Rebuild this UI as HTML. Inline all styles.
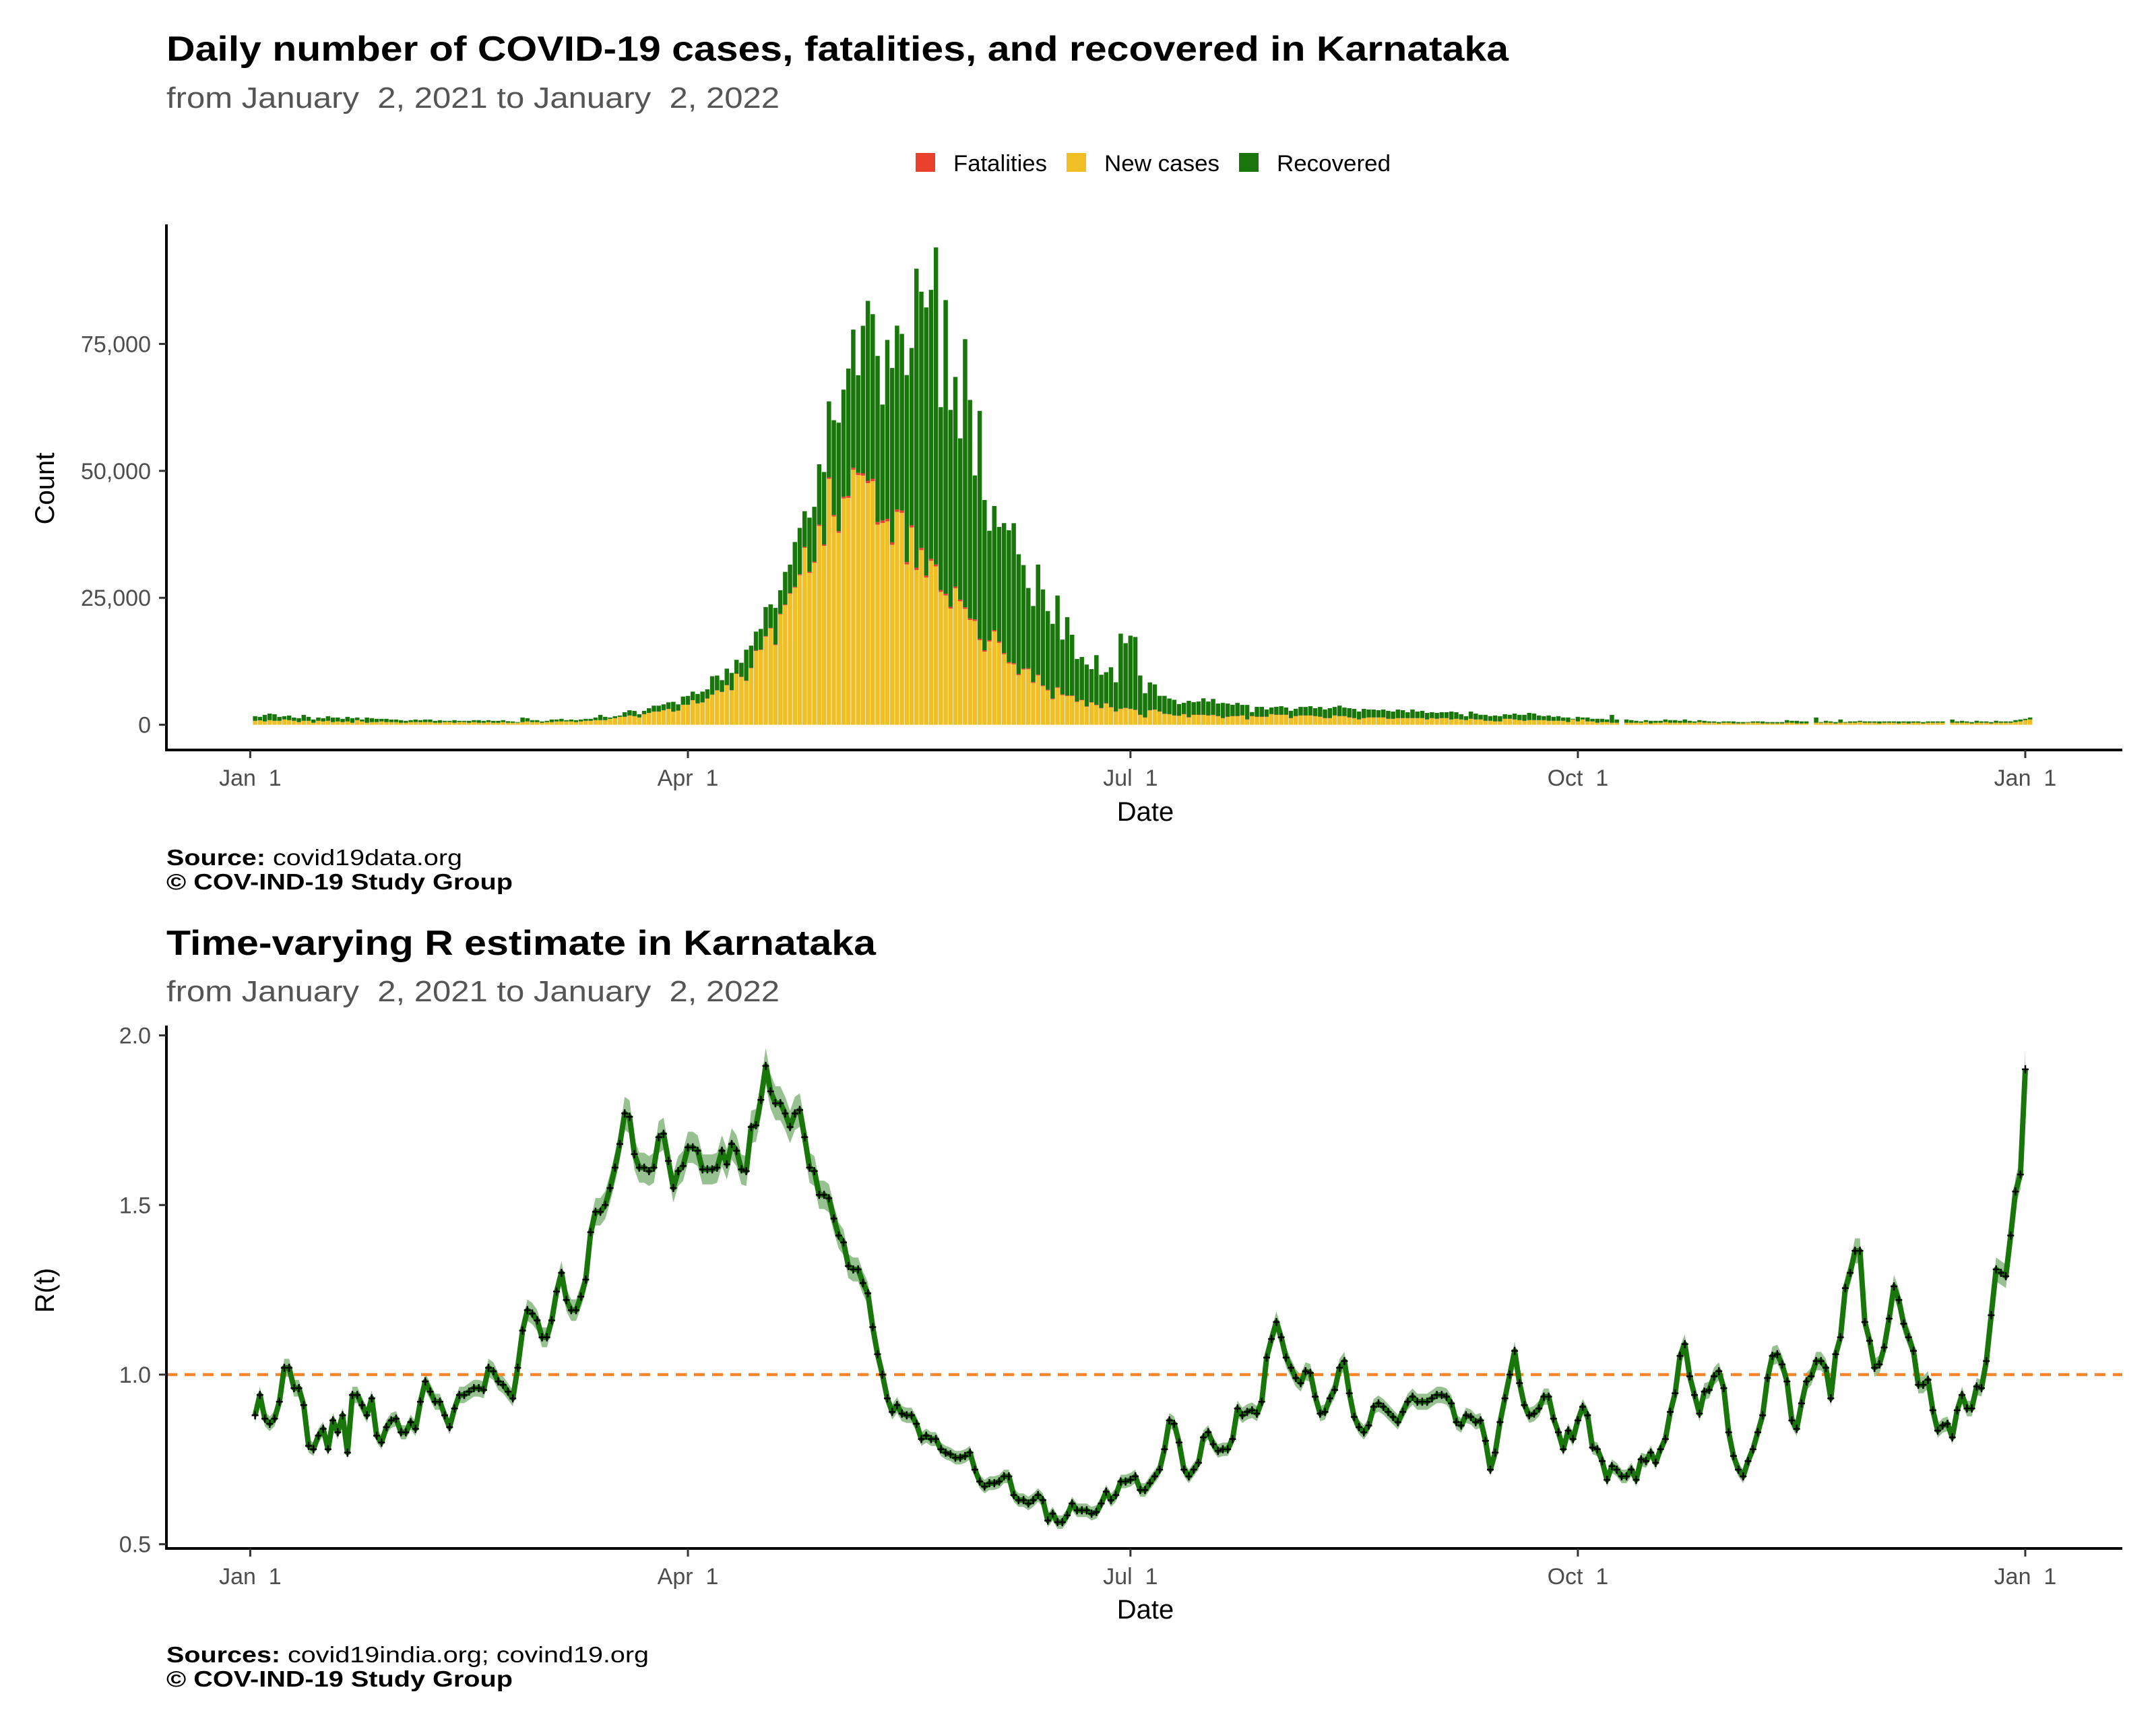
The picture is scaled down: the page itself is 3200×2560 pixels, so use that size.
<!DOCTYPE html>
<html><head><meta charset="utf-8">
<style>
html,body{margin:0;padding:0;background:#fff;}
svg{display:block;font-family:"Liberation Sans",Arial,sans-serif;}
</style></head>
<body>
<svg id="chart" width="3200" height="2560" viewBox="0 0 3200 2560" xmlns="http://www.w3.org/2000/svg">
  <rect x="0" y="0" width="3200" height="2560" fill="#fff"/>
  <text x="247" y="90" font-size="52" font-weight="bold" fill="#000" textLength="1992" lengthAdjust="spacingAndGlyphs">Daily number of COVID-19 cases, fatalities, and recovered in Karnataka</text>
  <text x="247" y="160" font-size="44" fill="#555" style="white-space:pre" xml:space="preserve" textLength="910" lengthAdjust="spacingAndGlyphs">from January  2, 2021 to January  2, 2022</text>
  <g>
    <g>
      <rect x="1359" y="227" width="29" height="28" fill="#e8412c"/>
      <text x="1415" y="254" font-size="34" fill="#000" textLength="139" lengthAdjust="spacingAndGlyphs">Fatalities</text>
    </g>
    <g>
      <rect x="1583" y="227" width="29" height="28" fill="#f0bf26"/>
      <text x="1639" y="254" font-size="34" fill="#000" textLength="171" lengthAdjust="spacingAndGlyphs">New cases</text>
    </g>
    <g>
      <rect x="1839" y="227" width="29" height="28" fill="#18760a"/>
      <text x="1895" y="254" font-size="34" fill="#000" textLength="169" lengthAdjust="spacingAndGlyphs">Recovered</text>
    </g>
  </g>
  <g id="bars"></g>
  <g id="topAxes"></g>
  <text x="0" y="0" font-size="40" fill="#000" text-anchor="middle" transform="translate(80,725) rotate(-90)">Count</text>
  <text x="1700" y="1218" font-size="40" fill="#000" text-anchor="middle">Date</text>
  <text x="247" y="1284" font-size="33" fill="#000" textLength="439" lengthAdjust="spacingAndGlyphs"><tspan font-weight="bold">Source:</tspan> covid19data.org</text>
  <text x="247" y="1320" font-size="33" font-weight="bold" fill="#000" textLength="514" lengthAdjust="spacingAndGlyphs">© COV-IND-19 Study Group</text>

  <text x="247" y="1417" font-size="52" font-weight="bold" fill="#000" textLength="1053" lengthAdjust="spacingAndGlyphs">Time-varying R estimate in Karnataka</text>
  <text x="247" y="1486" font-size="44" fill="#555" style="white-space:pre" xml:space="preserve" textLength="910" lengthAdjust="spacingAndGlyphs">from January  2, 2021 to January  2, 2022</text>
  <g id="rplot"></g>
  <g id="botAxes"></g>
  <text x="0" y="0" font-size="40" fill="#000" text-anchor="middle" transform="translate(80,1915) rotate(-90)">R(t)</text>
  <text x="1700" y="2402" font-size="40" fill="#000" text-anchor="middle">Date</text>
  <text x="247" y="2467" font-size="33" fill="#000" textLength="716" lengthAdjust="spacingAndGlyphs"><tspan font-weight="bold">Sources:</tspan> covid19india.org; covind19.org</text>
  <text x="247" y="2503" font-size="33" font-weight="bold" fill="#000" textLength="514" lengthAdjust="spacingAndGlyphs">© COV-IND-19 Study Group</text>
</svg>
<script>
const casesA = [770,860,650,900,770,770,1030,900,770,520,770,770,390,770,650,770,520,650,520,650,390,900,650,390,520,520,650,520,520,520,390,390,520,520,520,520,520,390,390,520,520,390,520,
520,390,520,390,390,520,390,390,520,390,390,390,520,650,520,520,390,520,520,650,650,650,650,520,650,770,770,900,900,900,1160,1290,1550,1550,1810,1680,1420,2060,2320,2580,2580,2840,3100];
const recoveredA = [910,690,1290,1290,1290,780,650,910,650,770,1170,780,640,650,640,910,900,770,640,900,900,520,380,1030,770,640,510,640,510,510,510,380,380,510,380,510,510,380,510,250,250,510,250,
250,380,380,510,380,380,380,380,380,300,260,130,900,640,380,380,260,250,510,380,510,250,380,380,380,390,390,520,1040,650,260,390,260,900,1030,1030,640,650,910,1160,1160,1160,1290];
const casesB = [2570,2770,3920,3920,4820,4180,4370,5140,5900,6750,6430,7780,6750,10030,9390,8620,11120,14530,14720,17360,
18970,15690,21730,23530,25780,27000,29450,34850,29900,31890,39160,35240,48420,41020,37810,44560,44690,50220,49190,49060,
47580,47970,39420,39740,40060,35430,41920,41730,31570,38840,30480,34400,29000,32280,31190,26170,25460,22890,26880,24310,
22830,20640,20450,16650,14400,16400,18390,16140,13890,12090,11900,9770,10870,10930,8230,9710,7590,6750,5020,7270,
5850,5660,5660,4500,4820,3540,4370,3860,3220,4180,3410,2570,3090,3280,3090,2890,1930,1410,2830,2960,2570,2120,2060,1800,1740];
const recoveredB = [1930,1230,1610,1740,1680,1860,2130,1800,3620,2900,2310,3220,3410,2700,2760,6100,4380,3730,4060,5720,
4630,7200,4630,6430,5600,8810,9130,7010,10670,10810,11890,14270,14980,18650,21350,21090,25080,27200,19220,29060,
35430,32410,32720,22820,35230,34340,36200,34780,36840,34910,58900,50470,52790,52980,62430,36010,57810,38770,41280,31760,
52790,43020,28350,44880,29580,21540,24430,22570,25590,25980,27580,23600,20380,15820,14980,21670,18900,15500,14720,18060,
10800,15430,11960,8360,8430,8230,6500,9770,6550,6110,7840,5730,14790,12730,14400,14340,7720,4760,5470,4950,3090,3540,3080,3090,2310];
const casesC = [2060,1420,1940,1940,1940,1810,1890,1680,1290,1550,1680,1680,1810,1030,1680,1550,1550,1550,2060,1940,
1940,1940,1290,1680,1810,1810,1810,1680,1550,1290,1290,1810,1680,1680,1420,1290,1030,1290,1420,1420,
1420,1420,1160,1160,1290,1290,1290,1290,1290,1290,1030,1290,1160,1290,1290,1030,1160,1030,900,1160,
1030,1030,770,770,650,650,1160,1160,1030,900,770,900,900,900,900,770,770,770,770,520,
1030,650,1030,650,650,390,520,520,390,390,
0,390,390,390,390,520,260,390,390,520,390,390,390,390,390,390,520,390,390,390,
260,390,390,260,260,260,390,390,390,260,260,260,260,260,390,390,260,260,260,0,
390,390,390,390,260,390,390,390,390,520,390,390,390,260,390,390,390,260,390,260,
390,390,260,390,390,390,390,0,390,390,390,390,260,390,390,390,260,390,390,390,
390,520,650,900,1030];
const recoveredC = [2200,3220,2450,2580,3220,2710,3140,2450,2970,2580,2190,2580,2060,2840,770,1930,1930,1420,1290,1540,
1670,1410,1420,1420,1670,1670,1800,1550,1930,1680,1940,1670,2060,1670,1810,1810,1550,1810,1550,1550,
1420,1550,1550,1420,1680,1550,1160,1680,1290,1420,1290,1160,1160,1160,1160,1550,1290,1030,780,1420,
1160,910,1170,910,1160,1030,900,780,1160,1040,1170,1420,1290,910,780,1040,780,910,650,900,
130,900,390,770,510,770,640,510,1550,640,
0,640,510,380,260,380,510,380,380,510,510,510,380,640,380,260,380,380,260,260,
260,260,260,390,260,260,130,260,260,390,260,260,260,260,510,380,510,390,390,0,
1030,130,380,260,260,640,130,260,260,250,260,260,260,390,260,260,260,390,260,390,
260,260,260,260,260,260,260,0,640,260,380,260,260,390,260,260,260,390,260,260,
260,380,380,260,390];
const deathsA = [12,14,10,12,11,9,13,10,8,9,10,8,7,9,8,7,6,8,6,7,6,7,5,6,5,6,5,6,5,4,5,5,6,5,4,5,6,5,4,5,5,4,5,
6,5,6,5,4,6,5,5,6,5,4,5,6,5,7,6,5,6,7,6,8,7,6,8,9,8,10,9,11,12,14,13,15,16,18,17,20,21,22,24,25,26,28];
const deathsB = [20,20,25,25,30,30,35,40,40,45,50,55,60,60,65,70,80,90,100,110,120,130,140,150,160,180,190,200,220,230,
250,270,290,310,330,350,380,400,420,450,470,480,500,500,500,490,480,470,460,450,440,420,400,390,380,370,360,350,340,330,
320,310,300,290,280,270,260,250,240,230,220,210,200,190,180,170,160,150,140,130,120,110,110,100,100,90,90,80,80,75,
70,70,65,60,60,55,50,50,45,45,40,40,35,35,30];
const deathsC = [60,80,55,60,50,55,60,50,45,50,60,45,50,40,55,45,50,40,45,50,45,40,45,50,40,35,45,40,35,40,
40,35,30,35,40,30,35,30,35,30,30,35,30,25,30,30,25,30,25,30,25,30,25,20,25,25,20,25,20,25,
20,25,20,20,25,20,20,25,20,20,18,20,18,20,18,20,18,16,18,16,
18,16,15,16,15,14,15,16,14,15,
0,14,15,14,13,15,14,13,14,15,13,14,12,14,13,12,14,13,12,13,
12,13,12,11,12,11,12,13,11,12,11,12,11,10,12,11,10,11,10,0,
11,10,11,10,9,10,11,10,9,10,9,10,9,8,9,10,9,8,9,8,
9,8,9,8,9,8,9,0,8,9,8,9,8,9,8,9,8,9,8,9,
9,10,11,12,14];
const cases = casesA.concat(casesB, casesC);
const recovered = recoveredA.concat(recoveredB, recoveredC);
const deaths = deathsA.concat(deathsB, deathsC);

const rValues = [0.88,0.94,0.87,0.855,0.87,0.92,1.02,1.02,0.96,0.96,0.91,0.79,0.78,0.82,0.84,0.78,0.865,0.83,0.88,0.77,
0.94,0.94,0.91,0.88,0.93,0.82,0.80,0.845,0.865,0.87,0.83,0.83,0.86,0.84,0.92,0.98,0.95,0.92,0.92,0.88,
0.845,0.90,0.94,0.94,0.95,0.96,0.96,0.955,1.02,1.01,0.98,0.97,0.95,0.93,1.02,1.13,1.19,1.18,1.16,1.11,
1.11,1.16,1.245,1.30,1.22,1.19,1.19,1.23,1.28,1.42,1.48,1.48,1.50,1.55,1.61,1.68,1.77,1.76,1.65,1.61,
1.61,1.60,1.61,1.70,1.71,1.63,1.55,1.60,1.615,1.67,1.67,1.66,1.605,1.605,1.605,1.61,1.66,1.62,1.68,1.66,
1.605,1.60,1.73,1.735,1.81,1.91,1.835,1.80,1.80,1.77,1.73,1.77,1.78,1.70,1.61,1.60,1.53,1.53,1.52,1.46,
1.41,1.39,1.32,1.31,1.31,1.27,1.24,1.14,1.06,1.0,0.93,0.89,0.91,0.885,0.88,0.88,0.855,0.81,0.82,0.81,
0.81,0.78,0.77,0.765,0.755,0.755,0.76,0.77,0.72,0.685,0.67,0.68,0.68,0.685,0.70,0.70,0.645,0.63,0.63,0.62,
0.63,0.645,0.63,0.57,0.59,0.565,0.565,0.585,0.62,0.60,0.60,0.60,0.59,0.595,0.62,0.655,0.63,0.645,0.685,0.685,
0.69,0.70,0.66,
0.66,0.68,0.70,0.72,0.78,0.865,0.855,0.80,0.72,0.70,0.72,0.74,0.815,0.83,0.795,0.775,0.78,0.78,0.81,0.90,
0.88,0.89,0.895,0.885,0.92,1.05,1.105,1.155,1.11,1.05,1.02,0.99,0.975,1.01,1.005,0.935,0.885,0.89,0.93,0.955,
1.02,1.04,0.945,0.875,0.845,0.83,0.85,0.905,0.915,0.905,0.89,0.875,0.86,0.89,0.92,0.935,0.92,0.92,0.92,0.93,
0.94,0.94,0.935,0.915,0.86,0.85,0.88,0.875,0.86,0.865,0.805,0.72,0.77,0.86,0.93,1.0,1.07,0.975,0.91,0.88,
0.885,0.90,0.935,0.935,0.87,0.83,0.78,0.835,0.81,0.865,0.905,0.88,0.785,0.78,0.745,0.69,0.73,0.72,0.70,0.70,
0.72,0.69,0.75,0.745,0.77,0.74,0.78,0.81,0.89,0.945,1.055,1.09,0.995,0.94,0.885,0.95,0.955,0.995,1.01,0.96,
0.83,0.76,0.72,0.70,0.745,0.78,0.83,0.88,0.99,1.055,1.06,1.03,0.98,0.865,0.84,0.915,0.98,0.995,1.04,1.04,
1.02,0.93,1.06,1.11,1.255,1.30,1.365,1.365,1.155,1.10,1.02,1.03,1.08,1.165,1.26,1.22,1.15,1.11,1.07,0.97,
0.97,0.985,0.895,0.835,0.85,0.855,0.815,0.895,0.94,0.90,0.90,0.965,0.96,1.04,1.175,1.31,1.30,1.29,1.41,1.54,
1.59,1.90];

const yTicksTop = [0, 25000, 50000, 75000];
const yTickLabelsTop = ["0", "25,000", "50,000", "75,000"];
const yTicksBot = [0.5, 1.0, 1.5, 2.0];
const yTickLabelsBot = ["0.5", "1.0", "1.5", "2.0"];
const xTickDays = [0, 90, 181, 273, 365];
const xTickLabels = ["Jan  1", "Apr  1", "Jul  1", "Oct  1", "Jan  1"];

const NS = "http://www.w3.org/2000/svg";
function xDay(d){ return 371.4 + d * 7.218; }
function yTop(v){ return 1075.6 - v * (188.4 / 25000); }
function yBot(r){ return 2040 - (r - 1) * 503.4; }
function mk(tag, attrs, parent){
  const e = document.createElementNS(NS, tag);
  for (const k in attrs) e.setAttribute(k, attrs[k]);
  parent.appendChild(e);
  return e;
}

const barsG = document.getElementById('bars');
const bw = 7.218 * 0.9;
for (let i = 0; i < cases.length; i++) {
  const d = i + 1;
  const x = xDay(d) - bw / 2;
  const c = cases[i] || 0, f = deaths[i] || 0, r = recovered[i] || 0;
  if (c + f + r <= 0) continue;
  const g = mk('g', {}, barsG);
  
  
  const y0 = yTop(0), y1 = yTop(c), y2 = yTop(c + f), y3 = yTop(c + f + r);
  const rc = mk('rect', {x: x, y: y1, width: bw, height: y0 - y1, fill: '#f0bf26'}, g);
  
  
  const rf = mk('rect', {x: x, y: y2, width: bw, height: y1 - y2, fill: '#e8412c'}, g);
  
  
  const rr = mk('rect', {x: x, y: y3, width: bw, height: y2 - y3, fill: '#18760a'}, g);
  
  
}

function drawAxes(gid, yTop0, yBase, yTicks, yLabels, yfn){
  const g = document.getElementById(gid);
  const ya = mk('line', {x1: 247, y1: yTop0, x2: 247, y2: yBase + 2, stroke: '#000', 'stroke-width': 4}, g);
  
  
  const xa = mk('line', {x1: 245, y1: yBase, x2: 3150, y2: yBase, stroke: '#000', 'stroke-width': 4}, g);
  
  
  yTicks.forEach((v, i) => {
    const y = yfn(v);
    const t = mk('line', {x1: 236, y1: y, x2: 247, y2: y, stroke: '#333', 'stroke-width': 3}, g);
    
    
    const l = mk('text', {x: 224, y: y + 12, 'font-size': 34, fill: '#4d4d4d', 'text-anchor': 'end'}, g);
    l.textContent = yLabels[i];
    
    
  });
  xTickDays.forEach((d, i) => {
    const x = xDay(d);
    const t = mk('line', {x1: x, y1: yBase, x2: x, y2: yBase + 12, stroke: '#333', 'stroke-width': 3}, g);
    
    
    const l = mk('text', {x: x, y: yBase + 53, 'font-size': 34, fill: '#4d4d4d', 'text-anchor': 'middle'}, g);
    l.setAttribute('style', 'white-space:pre');
    l.textContent = xTickLabels[i];
    
    
  });
}
drawAxes('topAxes', 333, 1113, yTicksTop, yTickLabelsTop, yTop);
drawAxes('botAxes', 1522, 2298, yTicksBot, yTickLabelsBot, yBot);

const rg = document.getElementById('rplot');
let up = [], lo = [], pts = [];
rValues.forEach((r, i) => {
  const x = xDay(i + 1);
  const w = 0.02 + 0.03 * Math.max(0, r - 0.8);
  up.push(x.toFixed(1) + ',' + yBot(r + w).toFixed(1));
  lo.unshift(x.toFixed(1) + ',' + yBot(r - w).toFixed(1));
  pts.push(x.toFixed(1) + ',' + yBot(r).toFixed(1));
});
const band = mk('polygon', {points: up.concat(lo).join(' '), fill: '#18760a', 'fill-opacity': 0.45}, rg);


const ref = mk('line', {x1: 247, y1: yBot(1), x2: 3150, y2: yBot(1), stroke: '#f5862a', 'stroke-width': 4.5, 'stroke-dasharray': '16 11'}, rg);


const line = mk('polyline', {points: pts.join(' '), fill: 'none', stroke: '#18760a', 'stroke-width': 8, 'stroke-linejoin': 'round'}, rg);


let dpath = '';
rValues.forEach((r, i) => {
  const x = xDay(i + 1), y = yBot(r);
  dpath += 'M' + (x - 5).toFixed(1) + ',' + y.toFixed(1) + 'h10M' + x.toFixed(1) + ',' + (y - 6).toFixed(1) + 'v12';
});
const marks = mk('path', {d: dpath, stroke: '#000', 'stroke-width': 2.5, fill: 'none'}, rg);


</script>
</body></html>
